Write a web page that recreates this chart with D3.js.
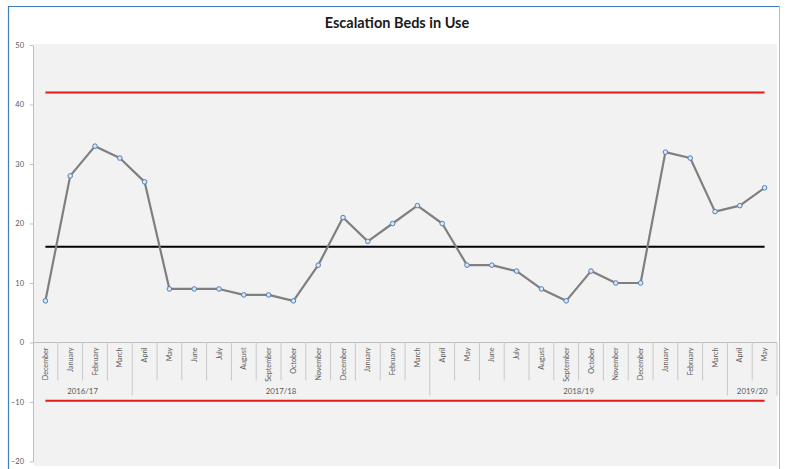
<!DOCTYPE html>
<html>
<head>
<meta charset="utf-8">
<script src="https://cdnjs.cloudflare.com/ajax/libs/d3/7.8.5/d3.min.js"></script>
<style>
  html, body { margin: 0; padding: 0; background: #ffffff; }
  svg { display: block; font-family: Lato, "Open Sans", sans-serif; }
</style>
</head>
<body>
<svg id="chart" width="787" height="469"></svg>
<script>
// Monthly escalation beds in use, Dec 2016 – May 2019
const months = [
  "December", "January", "February", "March",
  "April", "May", "June", "July", "August", "September", "October", "November", "December", "January", "February", "March",
  "April", "May", "June", "July", "August", "September", "October", "November", "December", "January", "February", "March",
  "April", "May"
];
const bedsInUse = [
  7, 28, 33, 31,
  27, 9, 9, 9, 8, 8, 7, 13, 21, 17, 20, 23,
  20, 13, 13, 12, 9, 7, 12, 10, 10, 32, 31, 22,
  23, 26
];
const yearLabels = ["2016/17", "2017/18", "2018/19", "2019/20"];
const yearMonthCounts = [4, 12, 12, 2];

// Control chart reference lines
const meanValue = 16.1;
const upperLimit = 42.0;
const lowerLimit = -9.8;

const yTicks = [-20, -10, 0, 10, 20, 30, 40, 50];

const svg = d3.select("#chart");
const W = 787, H = 469;

// Outer frame
const frame = svg.append("g");
frame.append("line").attr("x1", 8).attr("x2", 780).attr("y1", 6.5).attr("y2", 6.5)
  .attr("stroke", "#3a7fc1").attr("stroke-width", 1.2);
frame.append("line").attr("x1", 8.5).attr("x2", 8.5).attr("y1", 6).attr("y2", H)
  .attr("stroke", "#3a7fc1").attr("stroke-width", 1.2);
frame.append("line").attr("x1", 779.5).attr("x2", 779.5).attr("y1", 6).attr("y2", H)
  .attr("stroke", "#9cc3e6").attr("stroke-width", 1);

const left = 33, right = 777;
const x = d3.scaleBand().domain(d3.range(months.length)).range([left, right]);
const y = d3.scaleLinear().domain([-20, 50]).range([461.5, 45]);

// Plot area background
svg.append("rect")
  .attr("x", left + 1).attr("y", 44)
  .attr("width", right - left - 1).attr("height", 422)
  .attr("fill", "#f2f2f2");

// Title
svg.append("text")
  .attr("x", 397).attr("y", 28)
  .attr("text-anchor", "middle")
  .attr("font-size", 14.5).attr("font-weight", 700)
  .attr("fill", "#1a1a1a")
  .text("Escalation Beds in Use");

// Y axis
const yAxis = svg.append("g")
  .attr("transform", `translate(${left},0)`)
  .call(d3.axisLeft(y).tickValues(yTicks).tickSize(3).tickPadding(6).tickSizeOuter(0));
yAxis.select(".domain").attr("stroke", "#bfbfbf");
yAxis.selectAll(".tick line").attr("stroke", "#bfbfbf");
yAxis.selectAll(".tick text").attr("fill", "#595959").attr("font-size", 7.5)
  .attr("font-family", "Lato, sans-serif");

// Category axis along y = 0
const y0 = y(0);
const axisG = svg.append("g");
axisG.append("line")
  .attr("x1", left).attr("x2", right).attr("y1", y0).attr("y2", y0)
  .attr("stroke", "#bfbfbf");

// Divider lines between months; longer ones mark year boundaries
const boundaries = new Set(d3.cumsum(yearMonthCounts));
const step = x.step();
axisG.selectAll("line.div")
  .data(d3.range(1, months.length + 1))
  .join("line")
  .attr("class", "div")
  .attr("x1", i => left + i * step).attr("x2", i => left + i * step)
  .attr("y1", y0)
  .attr("y2", i => boundaries.has(i) ? y0 + 53 : y0 + 38)
  .attr("stroke", "#c8c8c8");

axisG.selectAll("text.month")
  .data(months)
  .join("text")
  .attr("class", "month")
  .attr("transform", (d, i) => `translate(${x(i) + x.bandwidth() / 2 + 2.6},${y0 + 5}) rotate(-90)`)
  .attr("text-anchor", "end")
  .attr("font-size", 7.2)
  .attr("fill", "#595959")
  .text(d => d);

const starts = [0, ...d3.cumsum(yearMonthCounts)];
axisG.selectAll("text.year")
  .data(yearLabels)
  .join("text")
  .attr("class", "year")
  .attr("x", (d, i) => left + (starts[i] + yearMonthCounts[i] / 2) * step)
  .attr("y", y0 + 51)
  .attr("text-anchor", "middle")
  .attr("font-size", 7.8)
  .attr("fill", "#595959")
  .text(d => d);

// Reference lines
const cx = i => x(i) + x.bandwidth() / 2;
const xStart = cx(0), xEnd = cx(months.length - 1);
[[upperLimit, "#e31a1c"], [lowerLimit, "#e31a1c"], [meanValue, "#000000"]].forEach(([v, c]) => {
  svg.append("line")
    .attr("x1", xStart).attr("x2", xEnd)
    .attr("y1", y(v)).attr("y2", y(v))
    .attr("stroke", c).attr("stroke-width", 2);
});

// Data series
const line = d3.line().x((d, i) => cx(i)).y(d => y(d));
svg.append("path")
  .datum(bedsInUse)
  .attr("d", line)
  .attr("fill", "none")
  .attr("stroke", "#7f7f7f")
  .attr("stroke-width", 2.2)
  .attr("stroke-linejoin", "round");

svg.selectAll("circle.pt")
  .data(bedsInUse)
  .join("circle")
  .attr("class", "pt")
  .attr("cx", (d, i) => cx(i))
  .attr("cy", d => y(d))
  .attr("r", 2.3)
  .attr("fill", "#dce6f2")
  .attr("stroke", "#4f81bd")
  .attr("stroke-width", 1);
</script>
</body>
</html>
